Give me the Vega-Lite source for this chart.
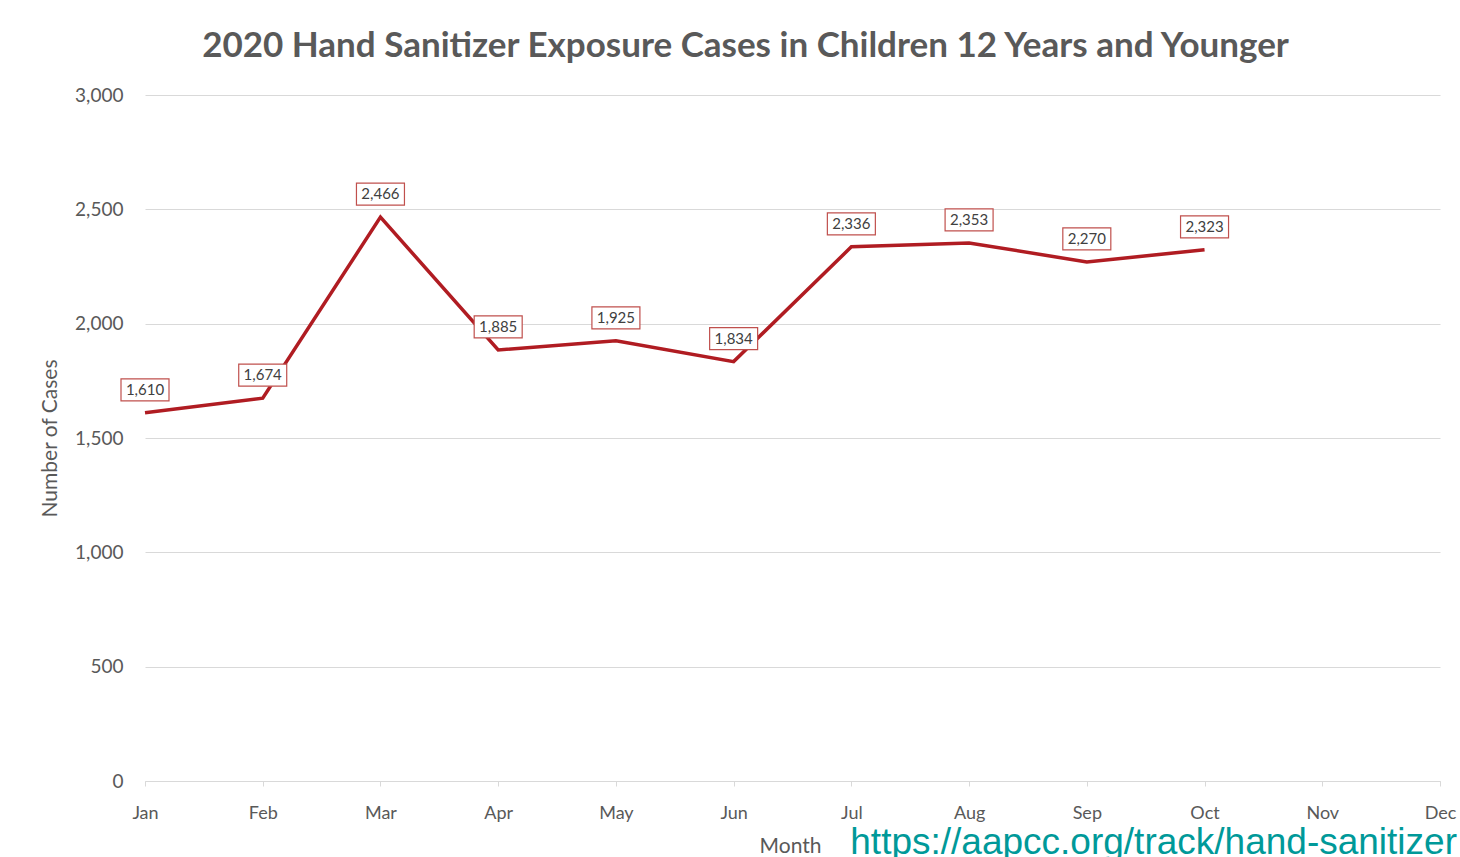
{
  "$schema": "https://vega.github.io/schema/vega-lite/v6.json",
  "width": 1295,
  "height": 686,
  "autosize": "none",
  "padding": {"left": 145, "top": 95, "right": 20, "bottom": 76},
  "background": "white",
  "title": {
    "text": "2020 Hand Sanitizer Exposure Cases in Children 12 Years and Younger",
    "font": "Lato",
    "fontSize": 35,
    "fontWeight": "bold",
    "color": "#595959",
    "anchor": "middle",
    "dx": -47,
    "offset": 22
  },
  "data": {
    "values": [
      {"month": "Jan", "cases": 1610},
      {"month": "Feb", "cases": 1674},
      {"month": "Mar", "cases": 2466},
      {"month": "Apr", "cases": 1885},
      {"month": "May", "cases": 1925},
      {"month": "Jun", "cases": 1834},
      {"month": "Jul", "cases": 2336},
      {"month": "Aug", "cases": 2353},
      {"month": "Sep", "cases": 2270},
      {"month": "Oct", "cases": 2323}
    ]
  },
  "encoding": {
    "x": {
      "field": "month",
      "type": "ordinal",
      "sort": null,
      "scale": {"type": "point", "padding": 0, "domain": ["Jan", "Feb", "Mar", "Apr", "May", "Jun", "Jul", "Aug", "Sep", "Oct", "Nov", "Dec"]},
      "axis": {
        "title": "Month",
        "labelAngle": 0,
        "labelFont": "Lato",
        "labelFontSize": 18,
        "labelColor": "#595959",
        "labelPadding": 18,
        "titleFont": "Lato",
        "titleFontSize": 21,
        "titleFontWeight": "normal",
        "titleColor": "#595959",
        "titlePadding": 13,
        "titleX": 645,
        "domainColor": "#d9d9d9",
        "tickColor": "#d9d9d9",
        "tickSize": 5,
        "grid": false
      }
    },
    "y": {
      "field": "cases",
      "type": "quantitative",
      "scale": {"domain": [0, 3000]},
      "axis": {
        "title": "Number of Cases",
        "values": [0, 500, 1000, 1500, 2000, 2500, 3000],
        "format": ",d",
        "labelFont": "Lato",
        "labelFontSize": 19,
        "labelColor": "#595959",
        "labelPadding": 22,
        "ticks": false,
        "domain": false,
        "gridColor": "#d9d9d9",
        "gridWidth": 1.2,
        "titleFont": "Lato",
        "titleFontSize": 21,
        "titleFontWeight": "normal",
        "titleColor": "#595959",
        "titlePadding": 14
      }
    }
  },
  "layer": [
    {
      "mark": {"type": "line", "color": "#b01c22", "strokeWidth": 3.5}
    },
    {
      "mark": {"type": "rect", "width": 48, "height": 22, "yOffset": -23, "fill": "white", "stroke": "#c0504d", "strokeWidth": 1.2}
    },
    {
      "mark": {"type": "text", "font": "Lato", "fontSize": 15, "color": "#404040", "dy": -23, "baseline": "middle"},
      "encoding": {"text": {"field": "cases", "type": "quantitative", "format": ","}}
    },
    {
      "data": {"values": [{"month": "Dec", "cases": 0, "note": "https://aapcc.org/track/hand-sanitizer"}]},
      "mark": {"type": "text", "font": "Liberation Sans", "fontSize": 37, "color": "#009999", "align": "right", "baseline": "alphabetic", "dx": 17, "dy": 73},
      "encoding": {"text": {"field": "note"}}
    }
  ],
  "config": {"view": {"stroke": null}}
}
